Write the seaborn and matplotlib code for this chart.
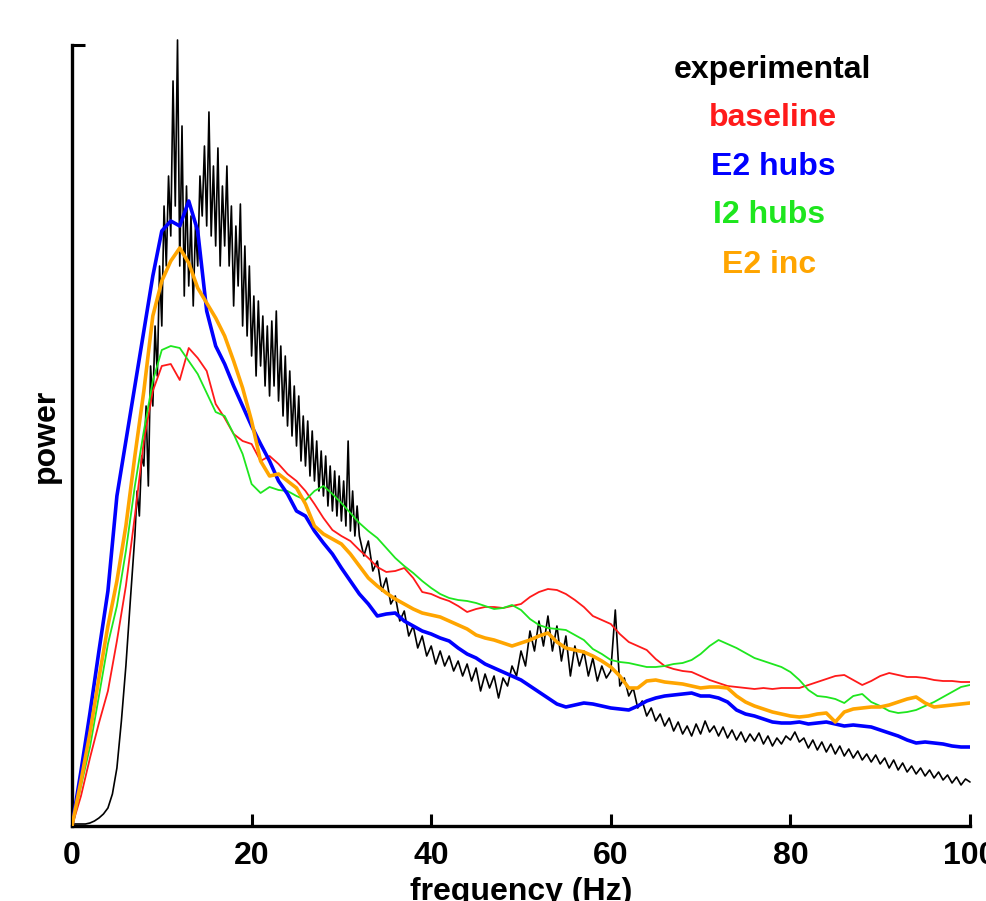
import numpy as np
import pandas as pd
import matplotlib
matplotlib.use("Agg")
import matplotlib.pyplot as plt
import seaborn as sns

# ---------------- data (power in arbitrary units) ----------------
freq = list(range(0, 101))  # 1 Hz resolution for model spectra

baseline = [0, 30, 68, 103, 135, 185, 240, 310, 385, 435, 460, 462, 446, 478, 468, 455, 422, 408, 392, 385,
            382, 365, 370, 362, 352, 345, 335, 322, 308, 296, 290, 285, 276, 268, 259, 254, 255, 258, 248, 234,
            232, 228, 225, 220, 214, 217, 219, 219, 218, 220, 222, 229, 234, 237, 236, 232, 226, 219, 210, 206,
            202, 192, 184, 180, 176, 167, 160, 157, 155, 154, 150, 146, 143, 140, 139, 138, 137, 138, 137, 138,
            138, 138, 141, 144, 147, 150, 151, 146, 141, 145, 150, 153, 151, 149, 149, 148, 146, 145, 145, 144,
            144]

e2_hubs = [0, 55, 113, 175, 235, 330, 385, 440, 495, 550, 595, 605, 600, 625, 595, 515, 480, 462, 440, 420,
           400, 382, 365, 345, 332, 315, 310, 295, 283, 272, 258, 245, 232, 222, 210, 212, 213, 205, 200, 195,
           192, 188, 185, 178, 172, 168, 162, 158, 154, 150, 146, 140, 134, 128, 122, 119, 121, 123, 122, 120,
           118, 117, 116, 120, 125, 128, 130, 131, 132, 133, 130, 130, 128, 124, 116, 112, 110, 107, 104, 103,
           103, 104, 102, 103, 104, 102, 100, 101, 100, 99, 96, 93, 90, 86, 83, 84, 83, 82, 80, 79,
           79]

i2_hubs = [0, 40, 79, 130, 182, 220, 275, 340, 395, 445, 476, 480, 478, 465, 452, 433, 414, 410, 392, 372,
           342, 333, 339, 336, 335, 330, 326, 335, 340, 332, 323, 313, 303, 295, 288, 278, 268, 260, 253, 245,
           238, 232, 228, 226, 225, 223, 220, 217, 218, 221, 216, 207, 201, 198, 197, 196, 191, 186, 177, 172,
           166, 164, 163, 161, 159, 159, 160, 162, 163, 166, 172, 180, 186, 182, 178, 173, 168, 165, 162, 159,
           154, 146, 136, 130, 129, 127, 123, 130, 132, 124, 120, 115, 113, 114, 116, 120, 124, 129, 134, 139,
           141]

e2_inc = [0, 45, 93, 148, 200, 245, 300, 370, 435, 510, 545, 565, 578, 563, 538, 523, 508, 490, 465, 438,
          405, 365, 350, 352, 345, 338, 322, 300, 292, 287, 282, 272, 260, 248, 240, 233, 227, 222, 217, 213,
          211, 209, 205, 201, 197, 191, 188, 186, 183, 180, 183, 186, 190, 193, 184, 178, 176, 174, 170, 165,
          159, 150, 138, 138, 145, 146, 144, 143, 142, 140, 138, 139, 139, 138, 130, 124, 120, 117, 114, 112,
          110, 109, 110, 112, 113, 104, 114, 117, 118, 119, 119, 121, 124, 127, 129, 123, 119, 120, 121, 122,
          123]

# experimental spectrum, three resolution segments
exp_low = [2, 2, 2, 2, 3, 5, 8, 12, 18, 32, 58, 105, 160, 226]            # 0 .. 6.5 Hz, step 0.5
exp_mid = [290, 335, 310, 370, 360, 420, 340, 460, 420, 500, 450, 560, 500, 620, 560, 650,
           590, 745, 620, 786, 560, 700, 530, 640, 540, 610, 520, 600, 560, 650, 610, 680,
           600, 714, 590, 660, 580, 678, 560, 640, 580, 660, 560, 620, 520, 600, 540, 622,
           500, 580, 490, 560, 470, 530, 450, 525, 460, 510, 440, 500, 430, 505, 440, 515,
           425, 480, 410, 470, 400, 455, 390, 440, 380, 430, 365, 410, 360, 405, 350, 395,
           345, 385, 335, 375, 330, 370, 320, 360, 315, 355, 310, 350, 305, 345, 300, 385,
           295, 335, 290, 320]                                               # 7 .. 31.75 Hz, step 0.25
exp_high = [290, 270, 285, 255, 265, 235, 248, 222, 230, 205, 215, 190, 200, 178, 190, 170,
            180, 162, 175, 160, 170, 155, 165, 150, 162, 145, 158, 135, 152, 138, 150, 128,
            148, 140, 160, 150, 175, 160, 195, 175, 205, 180, 210, 175, 200, 165, 190, 150,
            180, 160, 175, 150, 168, 145, 160, 148, 155, 216, 140, 148, 130, 138, 118, 125,
            110, 118, 105, 112, 100, 108, 95, 104, 92, 100, 90, 102, 92, 105, 94, 100,
            90, 99, 88, 96, 86, 94, 84, 92, 85, 93, 82, 90, 80, 88, 82, 90,
            86, 94, 84, 88, 78, 86, 76, 84, 74, 82, 72, 80, 70, 77, 68, 75,
            66, 72, 64, 71, 62, 68, 58, 66, 56, 63, 54, 60, 52, 58, 50, 56,
            48, 54, 46, 51, 43, 49, 41, 47, 44]                              # 32 .. 100 Hz, step 0.5

legend_labels = ["experimental", "baseline", "E2 hubs", "I2 hubs", "E2 inc"]
xticks = [0, 20, 40, 60, 80, 100]

# ---------------- frames ----------------
exp_freq = np.concatenate([
    0.0 + 0.5 * np.arange(len(exp_low)),
    7.0 + 0.25 * np.arange(len(exp_mid)),
    32.0 + 0.5 * np.arange(len(exp_high)),
])
exp_power = np.array(exp_low + exp_mid + exp_high, dtype=float)
df_exp = pd.DataFrame({"freq": exp_freq, "power": exp_power})
df_mod = pd.DataFrame({"freq": freq, "baseline": baseline, "E2 hubs": e2_hubs,
                       "I2 hubs": i2_hubs, "E2 inc": e2_inc})

# ---------------- style ----------------
sns.set_theme(style="white")
plt.rcParams["font.family"] = ["Liberation Sans", "DejaVu Sans"]
plt.rcParams["font.weight"] = "bold"
for key in ["text.color", "axes.labelcolor", "xtick.color", "ytick.color", "axes.edgecolor"]:
    plt.rcParams[key] = "black"

W, H = 987, 901
fig = plt.figure(figsize=(W / 100, H / 100), dpi=100)
ax = fig.add_axes([72 / W, (H - 826) / H, (970 - 72) / W, (826 - 45) / H])

colors = {"experimental": "#000000", "baseline": "#ff1a1a", "E2 hubs": "#0000ff",
          "I2 hubs": "#1ee61e", "E2 inc": "#ffa500"}
widths = {"experimental": 1.2, "baseline": 1.3, "E2 hubs": 2.6, "I2 hubs": 1.3, "E2 inc": 2.6}

sns.lineplot(data=df_exp, x="freq", y="power", color=colors["experimental"],
             lw=widths["experimental"], ax=ax, clip_on=False, zorder=2)
for name in ["baseline", "I2 hubs", "E2 hubs", "E2 inc"]:
    sns.lineplot(data=df_mod, x="freq", y=name, color=colors[name], lw=widths[name],
                 ax=ax, zorder=3)

ax.set_xlim(0, 100)
ax.set_ylim(0, 781)
ax.set_xticks(xticks)
ax.set_xticklabels([str(t) for t in xticks], fontsize=23, fontweight="bold", color="black")
ax.set_yticks([0, 781])
ax.set_yticklabels(["", ""])
ax.tick_params(axis="both", direction="in", length=9, width=2.2, color="black",
               labelcolor="black", pad=11)
ax.tick_params(axis="y", left=True)
ax.tick_params(axis="x", bottom=True)

for s in ["top", "right"]:
    ax.spines[s].set_visible(False)
for s in ["left", "bottom"]:
    ax.spines[s].set_linewidth(2.4)
    ax.spines[s].set_color("black")

ax.set_xlabel("frequency (Hz)", fontsize=23, fontweight="bold", labelpad=4, color="black")
ax.set_ylabel("power", fontsize=23, fontweight="bold", color="black")
ax.yaxis.set_label_coords(-0.012, 0.5)

# text legend
leg_y = [70, 118, 167, 215, 265]
leg_x = [772, 773, 773, 769, 769]
for lab, x, y in zip(legend_labels, leg_x, leg_y):
    fig.text(x / W, 1 - y / H, lab, color=colors[lab], fontsize=23, fontweight="bold",
             ha="center", va="center")

fig.savefig("out.png", dpi=100)
